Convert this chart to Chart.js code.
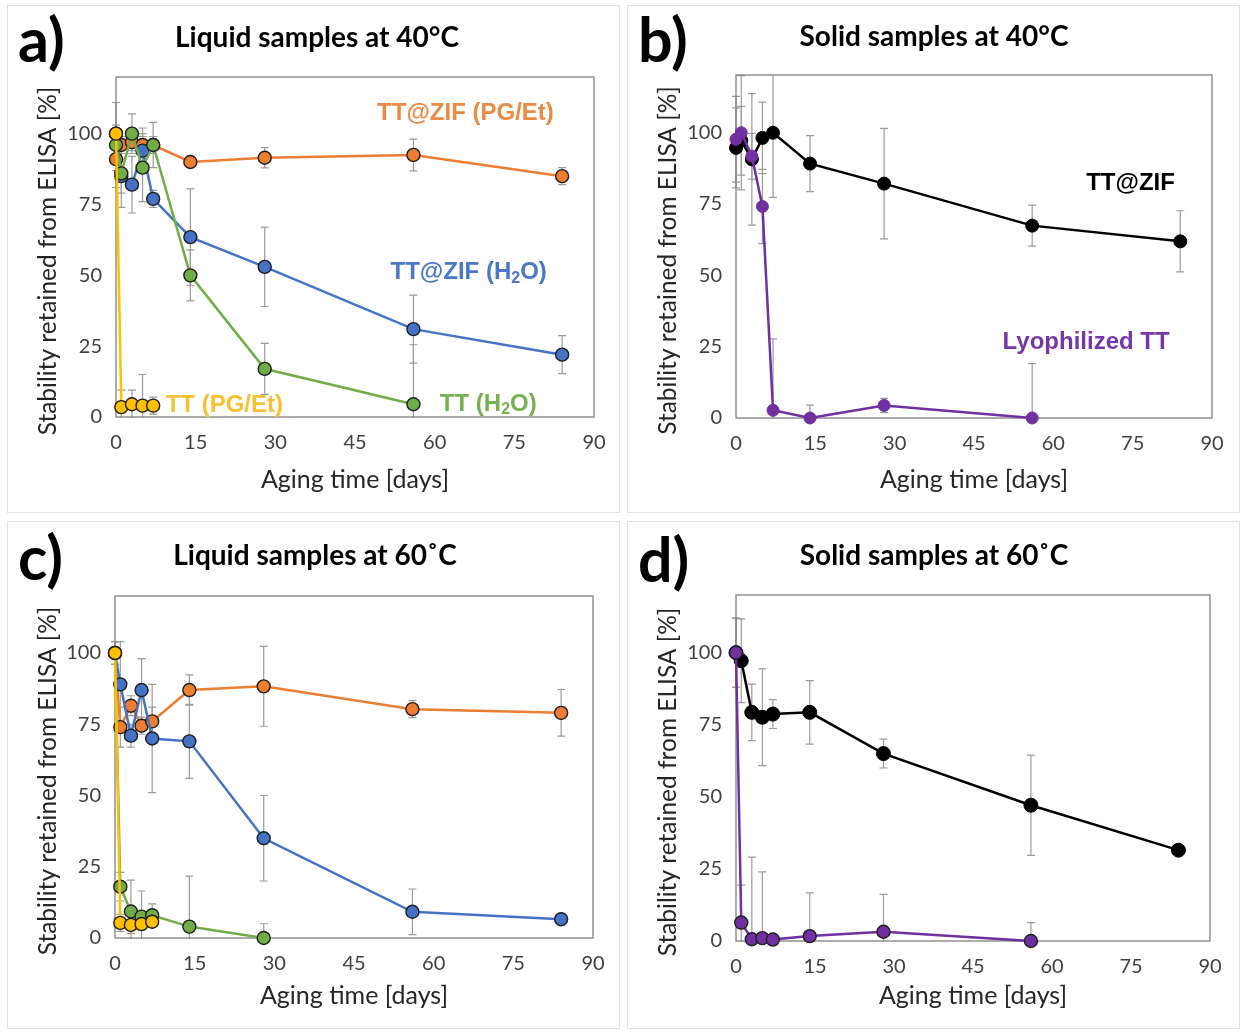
<!DOCTYPE html>
<html lang="en">
<head>
<meta charset="utf-8">
<title>ELISA stability</title>
<script src="https://cdn.jsdelivr.net/npm/chart.js@4.4.0/dist/chart.umd.min.js"></script>
<style>
body { margin: 0; background: #fff; width: 1244px; height: 1035px; position: relative; overflow: hidden; }
.panel { position: absolute; width: 613px; height: 508px; border: 1px solid #e2e2e2; box-sizing: border-box; }
.panel canvas { position: absolute; left: -1px; top: -1px; }
.letter { position: absolute; font: bold 61px Lato, sans-serif; line-height: 1; color: #000; }
.ttl { position: absolute; font: bold 28px Lato, sans-serif; color: #000; white-space: nowrap; transform: translate(-50%, -50%); }
</style>
</head>
<body>

<div class="panel" style="left:7px;top:5px">
  <canvas id="chartA" width="613" height="508"></canvas>
  <div class="letter" style="left:10px;top:2px">a)</div>
  <div class="ttl" style="left:309px;top:30px">Liquid samples at 40°C</div>
</div>
<div class="panel" style="left:627px;top:5px">
  <canvas id="chartB" width="613" height="508"></canvas>
  <div class="letter" style="left:10px;top:2px">b)</div>
  <div class="ttl" style="left:306px;top:29px">Solid samples at 40°C</div>
</div>
<div class="panel" style="left:7px;top:521px">
  <canvas id="chartC" width="613" height="508"></canvas>
  <div class="letter" style="left:10px;top:4px">c)</div>
  <div class="ttl" style="left:307px;top:32px">Liquid samples at 60˚C</div>
</div>
<div class="panel" style="left:627px;top:521px">
  <canvas id="chartD" width="613" height="508"></canvas>
  <div class="letter" style="left:10px;top:6px">d)</div>
  <div class="ttl" style="left:306px;top:32px">Solid samples at 60˚C</div>
</div>

<script>
// sampling days (x)
var days = [0, 1, 3, 5, 7, 14, 28, 56, 84];
var xTicks = [0, 15, 30, 45, 60, 75, 90];
var yTicks = [0, 25, 50, 75, 100];

// a) liquid samples at 40°C
var a_zifPG     = [91, 96, 97, 96, 96, 90, 91.5, 92.5, 85];
var a_zifPG_err = [4, 3, 3, 3, 3, 2, 3.6, 5.6, 3];
var a_zifW      = [100, 85, 82, 94, 77, 63.5, 53, 31, 22];
var a_zifW_err  = [3, 6, 10, 8, 3, 17, 14, 12, 6.7];
var a_ttW       = [96, 86, 100, 88, 96, 50, 17, 4.5];
var a_ttW_err   = [15, 12, 7, 12, 8, 9, 9, 21];
var a_ttPG      = [100, 3.5, 4.5, 4, 4];
var a_ttPG_err  = [1, 6, 5, 11, 3];

// b) solid samples at 40°C
var b_zif       = [94.5, 97, 90.5, 98, 99.8, 89, 82, 67.3, 61.8];
var b_zif_err   = [14, 12, 23, 12.5, 22.6, 9.8, 19.3, 7.2, 10.7];
var b_lyo       = [97.5, 99.8, 91.6, 74, 2.7, 0, 4.4, 0];
var b_lyo_err   = [15, 20, 8, 13, 25, 4.5, 2.5, 19];

// c) liquid samples at 60°C
var c_zifPG     = [100, 74, 81.5, 74.5, 76, 87, 88.3, 80.3, 79];
var c_zifPG_err = [4, 7, 3.5, 3, 5, 5.3, 14, 3, 8.2];
var c_zifW      = [100, 89, 71, 87, 70, 69, 35, 9.2, 6.6];
var c_zifW_err  = [4, 15, 4, 11, 19, 13, 15, 8, 2];
var c_ttW       = [100, 18, 9.3, 7.5, 8, 4, 0];
var c_ttW_err   = [4, 5, 11, 9, 4, 17.7, 5];
var c_ttPG      = [100, 5.3, 4.6, 4.9, 5.7];
var c_ttPG_err  = [2, 3, 3, 2, 2];

// d) solid samples at 60°C
var d_zif       = [100, 97.2, 79.3, 77.6, 78.7, 79.3, 65, 47.1, 31.5];
var d_zif_err   = [12, 14.5, 9.8, 16.8, 5, 11, 5, 17.4, 0];
var d_lyo       = [100, 6.4, 0.6, 1, 0.5, 1.7, 3.2, 0];
var d_lyo_err   = [12, 13, 28.5, 23, 0, 15, 13, 6.4];

var ORANGE = '#ED7D31', BLUE = '#4472C4', GREEN = '#70AD47', GOLD = '#FFC000', PURPLE = '#7030A0';

function pts(vals) {
  return vals.map(function (v, i) { return { x: days[i], y: v }; });
}

function series(vals, err, color, opt) {
  opt = opt || {};
  return {
    data: pts(vals),
    err: err,
    borderColor: color,
    borderWidth: opt.lw || 2.5,
    pointBackgroundColor: color,
    pointBorderColor: opt.edge || '#1e1e1e',
    pointBorderWidth: opt.ew == null ? 1.4 : opt.ew,
    pointRadius: opt.r || 6.5,
    pointHoverRadius: opt.r || 6.5,
    tension: 0,
    clip: false
  };
}

// error bars under the lines
var errorBars = {
  id: 'errorBars',
  beforeDatasetsDraw: function (chart) {
    var ctx = chart.ctx, a = chart.chartArea, ys = chart.scales.y;
    ctx.save();
    ctx.beginPath();
    ctx.rect(a.left - 6, a.top, a.right - a.left + 12, a.bottom - a.top + 1);
    ctx.clip();
    ctx.strokeStyle = '#9b9b9b';
    ctx.lineWidth = 1.2;
    chart.data.datasets.forEach(function (ds, i) {
      if (!ds.err) return;
      chart.getDatasetMeta(i).data.forEach(function (p, j) {
        var e = ds.err[j];
        if (!e) return;
        var v = ds.data[j].y;
        var y1 = ys.getPixelForValue(v + e), y2 = ys.getPixelForValue(v - e);
        ctx.beginPath();
        ctx.moveTo(p.x, y1); ctx.lineTo(p.x, y2);
        ctx.moveTo(p.x - 4, y1); ctx.lineTo(p.x + 4, y1);
        ctx.moveTo(p.x - 4, y2); ctx.lineTo(p.x + 4, y2);
        ctx.stroke();
      });
    });
    ctx.restore();
  }
};

// plot frame + rotated y title
var frame = {
  id: 'frame',
  beforeDatasetsDraw: function (chart) {
    var ctx = chart.ctx, a = chart.chartArea;
    ctx.save();
    ctx.strokeStyle = '#808080';
    ctx.lineWidth = 1.3;
    ctx.strokeRect(a.left, a.top, a.right - a.left, a.bottom - a.top);
    ctx.restore();
  },
  afterDraw: function (chart) {
    var ctx = chart.ctx, a = chart.chartArea;
    ctx.save();
    ctx.translate(41, (a.top + a.bottom) / 2 + 14);
    ctx.rotate(-Math.PI / 2);
    ctx.font = '24.5px Lato';
    ctx.fillStyle = '#262626';
    ctx.textAlign = 'center';
    ctx.textBaseline = 'middle';
    ctx.fillText('Stability retained from ELISA [%]', 0, 0);
    ctx.restore();
  }
};

// series name labels placed in data coordinates, '_2' = subscript
var seriesLabels = {
  id: 'seriesLabels',
  afterDatasetsDraw: function (chart, args, opts) {
    var ctx = chart.ctx, xs = chart.scales.x, ys = chart.scales.y;
    (opts.items || []).forEach(function (it) {
      var parts = it.text.split('_2');
      var big = 'bold 24px "Liberation Sans"', small = 'bold 16px "Liberation Sans"';
      ctx.save();
      ctx.fillStyle = it.color;
      ctx.textBaseline = 'middle';
      ctx.font = big;
      var w = 0;
      parts.forEach(function (s, k) {
        ctx.font = big; w += ctx.measureText(s).width;
        if (k < parts.length - 1) { ctx.font = small; w += ctx.measureText('2').width; }
      });
      var x = xs.getPixelForValue(it.x) - w / 2, y = ys.getPixelForValue(it.y);
      parts.forEach(function (s, k) {
        ctx.font = big; ctx.fillText(s, x, y); x += ctx.measureText(s).width;
        if (k < parts.length - 1) {
          ctx.font = small; ctx.fillText('2', x, y + 6); x += ctx.measureText('2').width;
        }
      });
      ctx.restore();
    });
  }
};

function makeChart(id, area, datasets, labels) {
  new Chart(document.getElementById(id), {
    type: 'line',
    data: { datasets: datasets },
    plugins: [errorBars, frame, seriesLabels],
    options: {
      responsive: false,
      animation: false,
      layout: { padding: { left: 0, top: area.top, right: 613 - area.right, bottom: 0 } },
      plugins: {
        legend: { display: false },
        tooltip: { enabled: false },
        seriesLabels: { items: labels }
      },
      scales: {
        x: {
          type: 'linear', min: 0, max: 90,
          afterBuildTicks: function (s) { s.ticks = xTicks.map(function (v) { return { value: v }; }); },
          afterFit: function (s) { s.height = 508 - area.bottom; },
          grid: { display: false, drawTicks: false },
          border: { display: false },
          ticks: { padding: 14, color: '#404040', font: { family: 'Lato', size: 20 } },
          title: { display: true, text: 'Aging time [days]', color: '#262626', padding: { top: 0, bottom: 18 },
                   font: { family: 'Lato', size: 25 } }
        },
        y: {
          type: 'linear', min: 0, max: 120,
          afterBuildTicks: function (s) { s.ticks = yTicks.map(function (v) { return { value: v }; }); },
          afterFit: function (s) { s.width = area.left; },
          grid: { display: false, drawTicks: false },
          border: { display: false },
          ticks: { padding: 14, color: '#404040', font: { family: 'Lato', size: 20 } }
        }
      }
    }
  });
}

makeChart('chartA', { left: 109, top: 72, right: 587, bottom: 412 }, [
  series(a_ttPG, a_ttPG_err, GOLD),
  series(a_ttW, a_ttW_err, GREEN),
  series(a_zifW, a_zifW_err, BLUE),
  series(a_zifPG, a_zifPG_err, ORANGE)
], [
  { text: 'TT@ZIF (PG/Et)', x: 65.8, y: 107, color: '#EB8A45' },
  { text: 'TT@ZIF (H_2O)', x: 66.4, y: 51, color: '#4A78C8' },
  { text: 'TT (H_2O)', x: 70.1, y: 4.6, color: '#77B052' },
  { text: 'TT (PG/Et)', x: 20.4, y: 4.2, color: '#F7C131' }
]);

makeChart('chartB', { left: 109, top: 70, right: 585, bottom: 413 }, [
  series(b_lyo, b_lyo_err, PURPLE, { edge: PURPLE, ew: 1, r: 6 }),
  series(b_zif, b_zif_err, '#000', { edge: '#000', ew: 1, r: 6.5 })
], [
  { text: 'TT@ZIF', x: 74.6, y: 82, color: '#000' },
  { text: 'Lyophilized TT', x: 66.2, y: 26.3, color: '#7636A8' }
]);

makeChart('chartC', { left: 108, top: 75, right: 586, bottom: 417 }, [
  series(c_ttPG, c_ttPG_err, GOLD),
  series(c_ttW, c_ttW_err, GREEN),
  series(c_zifW, c_zifW_err, BLUE),
  series(c_zifPG, c_zifPG_err, ORANGE)
], []);

makeChart('chartD', { left: 109, top: 74, right: 583, bottom: 420 }, [
  series(d_lyo, d_lyo_err, PURPLE, { r: 6.5 }),
  series(d_zif, d_zif_err, '#000', { edge: '#000', ew: 1, r: 7 })
], []);
</script>
</body>
</html>
